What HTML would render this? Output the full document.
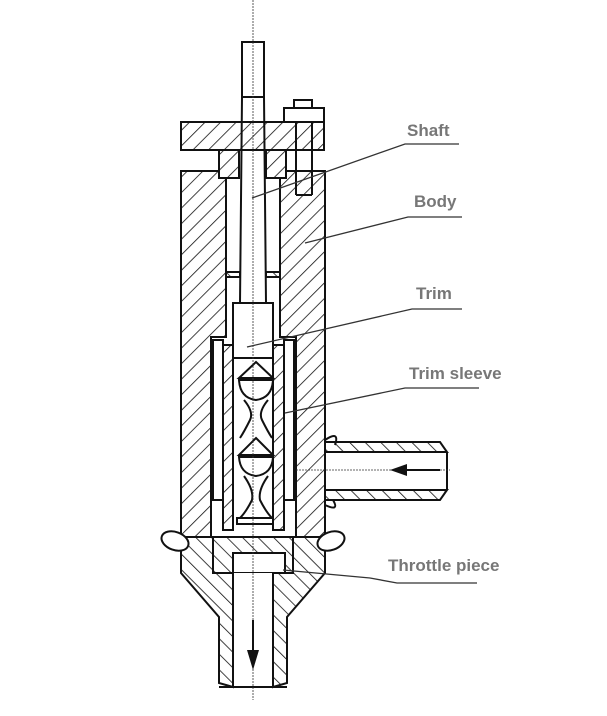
<!DOCTYPE html>
<html><head><meta charset="utf-8"><style>
html,body{margin:0;padding:0;background:#fff}
svg{display:block}
text{font-family:"Liberation Sans",sans-serif;font-weight:bold;font-size:17px;fill:#777}
</style></head><body>
<svg width="607" height="716" viewBox="0 0 607 716" xmlns="http://www.w3.org/2000/svg">
<defs>
<pattern id="h" width="11" height="11" patternUnits="userSpaceOnUse" patternTransform="rotate(45)">
<rect width="11" height="11" fill="#fff"/><line x1="0" y1="0" x2="0" y2="11" stroke="#111" stroke-width="1.6"/></pattern>
<pattern id="h2" width="11" height="11" patternUnits="userSpaceOnUse" patternTransform="rotate(-45)">
<rect width="11" height="11" fill="#fff"/><line x1="0" y1="0" x2="0" y2="11" stroke="#111" stroke-width="1.6"/></pattern>
</defs>
<g stroke="#111" stroke-width="2" fill="none">
<path d="M181,171 L226,171 L226,337 L211,337 L211,537 L181,537 Z" fill="url(#h)"/>
<path d="M280,171 L325,171 L325,537 L296,537 L296,337 L280,337 Z" fill="url(#h)"/>
<rect x="181" y="122" width="143" height="28" fill="url(#h)"/>
<rect x="219" y="150" width="20" height="28" fill="url(#h)"/>
<rect x="266" y="150" width="20" height="28" fill="url(#h)"/>
<rect x="284" y="108" width="40" height="14" fill="#fff"/>
<rect x="294" y="100" width="18" height="8" fill="#fff"/>
<line x1="296" y1="122" x2="296" y2="195"/><line x1="312" y1="122" x2="312" y2="195"/><line x1="296" y1="195" x2="312" y2="195"/>
<rect x="226" y="272" width="14" height="5" fill="url(#h2)"/>
<rect x="266" y="272" width="14" height="5" fill="url(#h2)"/>
<rect x="242" y="42" width="22" height="55" fill="#fff"/>
<path d="M242,97 L240,303 M264,97 L266,303"/>
<rect x="233" y="303" width="40" height="55" fill="#fff"/>
<rect x="213" y="340" width="10" height="160"/>
<rect x="284" y="340" width="10" height="160"/>
<path d="M223,345 L233,345 L233,530 L223,530 Z M273,345 L284,345 L284,530 L273,530 Z" fill="url(#h)"/>
<path d="M256,362 L273,378 L239,378 Z"/>
<path d="M239,380 Q240,398 256,400 Q272,398 273,380 Z"/>
<path d="M244,400 Q254,412 250,420 Q244,432 240,438 M268,400 Q258,412 262,420 Q268,432 272,438"/>
<path d="M256,438 L273,455 L239,455 Z"/>
<path d="M239,457 Q240,474 256,476 Q272,474 273,457 Z"/>
<path d="M244,476 Q254,490 252,500 Q246,512 240,518 M268,476 Q258,490 260,500 Q266,512 272,518"/>
<rect x="237" y="518" width="36" height="6"/>
<path d="M325,442 L440,442 L447,452 L325,452 Z" fill="url(#h2)"/>
<path d="M325,490 L447,490 L440,500 L325,500 Z" fill="url(#h2)"/>
<line x1="447" y1="452" x2="447" y2="490"/>
<path d="M325,440 Q340,430 335,445 M325,505 Q340,512 333,500"/>
<path d="M181,537 L325,537 L325,573 L287,617 L287,683 L273,687 L273,573 L233,573 L233,687 L219,683 L219,617 L181,573 Z" fill="url(#h2)"/>
<rect x="213" y="537" width="80" height="36" fill="url(#h2)"/>
<rect x="233" y="553" width="52" height="20" fill="#fff"/>
<rect x="233" y="573" width="40" height="114" fill="#fff" stroke="none"/>
<line x1="233" y1="573" x2="233" y2="687"/><line x1="273" y1="573" x2="273" y2="687"/><line x1="219" y1="687" x2="287" y2="687"/>
<ellipse cx="175" cy="541" rx="14" ry="9" fill="#fff" transform="rotate(20 175 541)"/>
<ellipse cx="331" cy="541" rx="14" ry="9" fill="#fff" transform="rotate(-20 331 541)"/>
</g>
<line x1="253" y1="0" x2="253" y2="700" stroke="#333" stroke-width="0.8" stroke-dasharray="2,1"/>
<line x1="296" y1="470" x2="450" y2="470" stroke="#333" stroke-width="0.8" stroke-dasharray="2,1"/>
<line x1="405" y1="470" x2="440" y2="470" stroke="#111" stroke-width="2"/>
<path d="M390,470 L407,464 L407,476 Z" fill="#111"/>
<line x1="253" y1="620" x2="253" y2="655" stroke="#111" stroke-width="2"/>
<path d="M253,670 L247,650 L259,650 Z" fill="#111"/>
<g stroke="#333" stroke-width="1.3" fill="none">
<path d="M252,198 L405,144 L459,144"/>
<path d="M305,243 L408,217 L462,217"/>
<path d="M247,347 L412,309 L462,309"/>
<path d="M285,413 L405,388 L479,388"/>
<path d="M283,570 L370,578 L397,583 L477,583"/>
</g>
<text x="407" y="136">Shaft</text>
<text x="414" y="207">Body</text>
<text x="416" y="299">Trim</text>
<text x="409" y="379">Trim sleeve</text>
<text x="388" y="571">Throttle piece</text>
</svg>
</body></html>
